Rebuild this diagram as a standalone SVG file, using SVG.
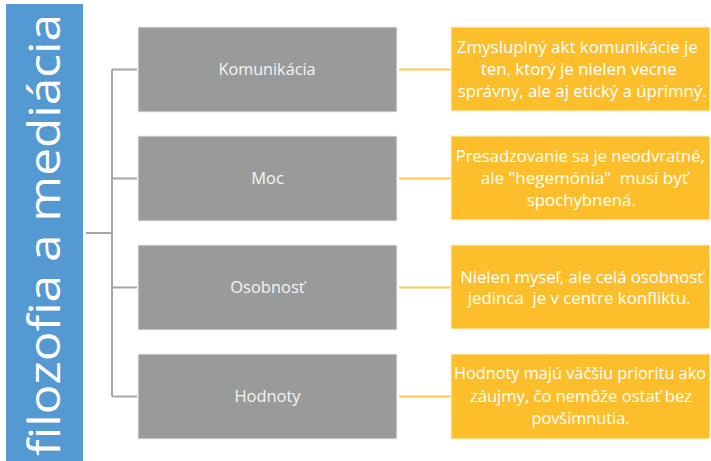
<svg xmlns="http://www.w3.org/2000/svg" width="711" height="461" viewBox="0 0 711 461">
<style>
.lbl{font-family:"Open Sans","DejaVu Sans",sans-serif;font-size:16.5px;fill:#F4F4F4;text-anchor:middle}
.txt{font-family:"Open Sans","DejaVu Sans",sans-serif;font-size:17px;fill:#FFFFFF;text-anchor:middle}
.gbox{fill:#999B9B;stroke:#EDEDED;stroke-width:1}
.obox{fill:#FCBF2B;stroke:#FFF1D0;stroke-width:1}
.gline{stroke:#A6A6A6;stroke-width:2;fill:none}
.oline{stroke:#FFC84F;stroke-width:2;fill:none}
</style>
<rect width="711" height="461" fill="#FFFFFF"/>
<g id="root">
<rect x="6" y="4" width="77" height="457" fill="#5599D3"/>
<text transform="translate(60,235) rotate(-90)" x="0" y="0" font-family="'Open Sans','DejaVu Sans',sans-serif" font-size="43" fill="#FFFFFF" text-anchor="middle" textLength="442" lengthAdjust="spacingAndGlyphs">filozofia a mediácia</text>
</g>
<g id="connectors">
<path class="gline" d="M86,233 H112 M112,69.5 V396.5 M112,69.5 H137 M112,178.5 H137 M112,287.5 H137 M112,396.5 H137"/>
<path class="oline" d="M399,69.5 H451 M399,178.5 H451 M399,287.5 H451 M399,396.5 H451"/>
</g>
<g id="n1">
<rect class="gbox" x="138" y="27" width="259" height="85"/>
<text class="lbl" x="267" y="75" textLength="97" lengthAdjust="spacingAndGlyphs">Komunikácia</text>
</g>
<g id="n2">
<rect class="gbox" x="138" y="136" width="259" height="85"/>
<text class="lbl" x="267.5" y="184">Moc</text>
</g>
<g id="n3">
<rect class="gbox" x="138" y="245" width="259" height="85"/>
<text class="lbl" x="267.5" y="293">Osobnosť</text>
</g>
<g id="n4">
<rect class="gbox" x="138" y="354" width="259" height="85"/>
<text class="lbl" x="267.5" y="402" textLength="66" lengthAdjust="spacingAndGlyphs">Hodnoty</text>
</g>
<g id="d1">
<rect class="obox" x="451" y="27" width="259" height="84"/>
<text class="txt" x="577.3" y="52.5" textLength="241" lengthAdjust="spacingAndGlyphs">Zmysluplný akt komunikácie je</text>
<text class="txt" x="578.7" y="74.5" textLength="196" lengthAdjust="spacingAndGlyphs">ten, ktorý je nielen vecne</text>
<text class="txt" x="582.2" y="96.5" textLength="249" lengthAdjust="spacingAndGlyphs">správny, ale aj etický a úprimný.</text>
</g>
<g id="d2">
<rect class="obox" x="451" y="136" width="259" height="84"/>
<text class="txt" x="580.3" y="161.5" textLength="249" lengthAdjust="spacingAndGlyphs">Presadzovanie sa je neodvratné,</text>
<text class="txt" x="584.3" y="183.5" textLength="207" lengthAdjust="spacingAndGlyphs" xml:space="preserve">ale "hegemónia"  musí byť</text>
<text class="txt" x="581.3" y="205.5" textLength="109" lengthAdjust="spacingAndGlyphs">spochybnená.</text>
</g>
<g id="d3">
<rect class="obox" x="451" y="245" width="259" height="84"/>
<text class="txt" x="581.7" y="283" textLength="243" lengthAdjust="spacingAndGlyphs">Nielen myseľ, ale celá osobnosť</text>
<text class="txt" x="579.3" y="304" textLength="223" lengthAdjust="spacingAndGlyphs" xml:space="preserve">jedinca  je v centre konfliktu.</text>
</g>
<g id="d4">
<rect class="obox" x="451" y="354" width="259" height="85"/>
<text class="txt" x="580" y="379" font-size="16" style="font-size:16px" textLength="252" lengthAdjust="spacingAndGlyphs">Hodnoty majú väčšiu prioritu ako</text>
<text class="txt" x="581" y="401.5" textLength="222" lengthAdjust="spacingAndGlyphs">záujmy, čo nemôže ostať bez</text>
<text class="txt" x="580.5" y="424" textLength="98" lengthAdjust="spacingAndGlyphs">povšimnutia.</text>
</g>
</svg>
